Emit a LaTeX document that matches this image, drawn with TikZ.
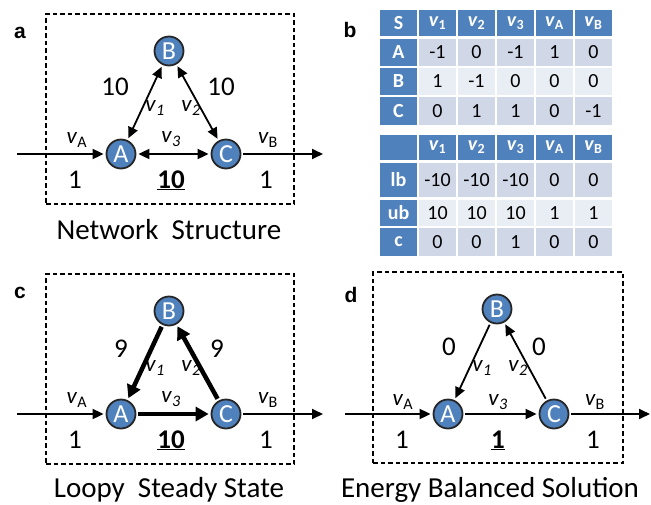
\documentclass[tikz,border=0pt]{standalone}
\usepackage{fontspec}
\setmainfont{Carlito}
\newfontfamily\panelfont{Liberation Sans}
\usetikzlibrary{arrows.meta}
\definecolor{nodeblue}{HTML}{4F81BD}
\definecolor{cellhead}{HTML}{4F81BD}
\definecolor{celldark}{HTML}{D0D8E8}
\definecolor{celllight}{HTML}{E9EDF4}
\newcommand\fsz[1]{\fontsize{#1}{#1}\selectfont}
\newcommand\flux[1]{\textit{v}\textsubscript{#1}}

\begin{document}
\begin{tikzpicture}[x=1pt,y=-1pt,
  met/.style={circle,fill=nodeblue,draw=black!85,line width=1.8pt,minimum size=29pt,inner sep=0pt,text=white,font=\fsz{26}},
  rxn/.style={line width=1.8pt,-{Triangle[length=11pt,width=10pt]},shorten >=2pt,shorten <=2pt},
  rev/.style={rxn,{Triangle[length=11pt,width=10pt]}-{Triangle[length=11pt,width=10pt]}},
  heavy/.style={line width=4.5pt,-{Triangle[length=13pt,width=14pt]},shorten >=2pt,shorten <=2pt},
  frame/.style={draw,line width=1.4pt,dash pattern=on 4.5pt off 3pt},
  num/.style={font=\fsz{27},anchor=base,inner sep=0pt},
  flx/.style={font=\fsz{23},inner sep=0pt},
  capt/.style={font=\fsz{29},anchor=base,inner sep=0pt},
  tag/.style={font=\panelfont\bfseries\fsz{21},anchor=base,inner sep=0pt},
  tc/.style={minimum width=37pt,inner sep=0pt,font=\fsz{20}},
  hc/.style={tc,fill=cellhead,text=white,font=\fsz{20}\bfseries},
  dc/.style={tc,fill=celldark},
  lc/.style={tc,fill=celllight},
]
\useasboundingbox (0,0) rectangle (651,504);

% ---------- a: network structure ----------
\node[frame,minimum width=248pt,minimum height=190pt,inner sep=0pt] (fa) at (170,109) {};
\node[tag] (ta) at (20,38) {a};
\node[met] (aB) at (169,51) {B};
\node[met] (aA) at (121,154) {A};
\node[met] (aC) at (226,154) {C};
\coordinate (aIn) at (17,154);
\coordinate (aOut) at (323,154);
\draw[rxn,shorten <=0pt] (aIn) -- (aA);
\draw[rxn,shorten >=0pt] (aC) -- (aOut);
\draw[rev] (aA) -- (aB);
\draw[rev] (aB) -- (aC);
\draw[rev] (aA) -- (aC);
\node[num] (a10l) at (115,95) {10};
\node[num] (a10r) at (221,95) {10};
\node[flx] (av1) at (155,108) {\flux{\textit{1}}};
\node[flx] (av2) at (191,108) {\flux{\textit{2}}};
\node[flx] (av3) at (171,139) {\flux{\textit{3}}};
\node[flx] (avA) at (77,140) {\flux{A}};
\node[flx] (avB) at (268,140) {\flux{B}};
\node[num] (a1l) at (75,188) {1};
\node[num] (a10) at (171,188) {\underline{\textbf{10}}};
\node[num] (a1r) at (266,188) {1};
\node[capt] (capa) at (169,239) {Network\ \ Structure};

% ---------- b: stoichiometry and bounds ----------
\node[tag] (tb) at (350,37) {b};
% stoichiometric matrix
\node[hc,minimum height=26pt] (s0) at (398.5,23) {S};
\foreach \x/\t [count=\i] in {437.5/{\flux{1}},476.5/{\flux{2}},515.5/{\flux{3}},554.5/{\flux{\upshape A}},593.5/{\flux{\upshape B}}}
  \node[hc,minimum height=26pt] (s0\i) at (\x,23) {\t};
\node[hc,minimum height=27pt] (sA) at (398.5,52.5) {A};
\foreach \x/\t [count=\i] in {437.5/-1,476.5/0,515.5/-1,554.5/1,593.5/0}
  \node[dc,minimum height=27pt] (sA\i) at (\x,52.5) {\t};
\node[hc,minimum height=27pt] (sB) at (398.5,81.5) {B};
\foreach \x/\t [count=\i] in {437.5/1,476.5/-1,515.5/0,554.5/0,593.5/0}
  \node[lc,minimum height=27pt] (sB\i) at (\x,81.5) {\t};
\node[hc,minimum height=28pt] (sC) at (398.5,111) {C};
\foreach \x/\t [count=\i] in {437.5/0,476.5/1,515.5/1,554.5/0,593.5/-1}
  \node[dc,minimum height=28pt] (sC\i) at (\x,111) {\t};
% flux bounds and objective
\node[hc,minimum height=25pt] (k0) at (398.5,147.5) {};
\foreach \x/\t [count=\i] in {437.5/{\flux{1}},476.5/{\flux{2}},515.5/{\flux{3}},554.5/{\flux{\upshape A}},593.5/{\flux{\upshape B}}}
  \node[hc,minimum height=25pt] (k0\i) at (\x,147.5) {\t};
\node[hc,minimum height=34pt] (klb) at (398.5,180) {lb};
\foreach \x/\t [count=\i] in {437.5/-10,476.5/-10,515.5/-10,554.5/0,593.5/0}
  \node[dc,minimum height=34pt] (klb\i) at (\x,180) {\t};
\node[hc,minimum height=26pt] (kub) at (398.5,213) {ub};
\foreach \x/\t [count=\i] in {437.5/10,476.5/10,515.5/10,554.5/1,593.5/1}
  \node[lc,minimum height=26pt] (kub\i) at (\x,213) {\t};
\node[hc,minimum height=28pt] (kc) at (398.5,242) {c};
\foreach \x/\t [count=\i] in {437.5/0,476.5/0,515.5/1,554.5/0,593.5/0}
  \node[dc,minimum height=28pt] (kc\i) at (\x,242) {\t};

% ---------- c: loopy steady state ----------
\node[frame,minimum width=248pt,minimum height=190pt,inner sep=0pt] (fc) at (170,369) {};
\node[tag] (tcc) at (20,298) {c};
\node[met] (cB) at (169,311) {B};
\node[met] (cA) at (121,414) {A};
\node[met] (cC) at (226,414) {C};
\coordinate (cIn) at (17,414);
\coordinate (cOut) at (323,414);
\draw[rxn,shorten <=0pt] (cIn) -- (cA);
\draw[rxn,shorten >=0pt] (cC) -- (cOut);
\draw[heavy] (cB) -- (cA);
\draw[heavy] (cC) -- (cB);
\draw[heavy] (cA) -- (cC);
\node[num] (c9l) at (121,357) {9};
\node[num] (c9r) at (217,357) {9};
\node[flx] (cv1) at (155,368) {\flux{\textit{1}}};
\node[flx] (cv2) at (191,368) {\flux{\textit{2}}};
\node[flx] (cv3) at (171,399) {\flux{\textit{3}}};
\node[flx] (cvA) at (77,400) {\flux{A}};
\node[flx] (cvB) at (268,400) {\flux{B}};
\node[num] (c1l) at (75,448) {1};
\node[num] (c10) at (171,448) {\underline{\textbf{10}}};
\node[num] (c1r) at (266,448) {1};
\node[capt] (capc) at (169,497) {Loopy\ \ Steady State};

% ---------- d: energy balanced solution ----------
\node[frame,minimum width=250pt,minimum height=191pt,inner sep=0pt] (fd) at (498,367.5) {};
\node[tag] (td) at (351,302) {d};
\node[met] (dB) at (497,309) {B};
\node[met] (dA) at (448,414) {A};
\node[met] (dC) at (554,414) {C};
\coordinate (dIn) at (345,414);
\coordinate (dOut) at (650,414);
\draw[rxn,shorten <=0pt] (dIn) -- (dA);
\draw[rxn,shorten >=0pt] (dC) -- (dOut);
\draw[rxn] (dB) -- (dA);
\draw[rxn] (dC) -- (dB);
\draw[rxn] (dA) -- (dC);
\node[num] (d0l) at (449,355) {0};
\node[num] (d0r) at (539,355) {0};
\node[flx] (dv1) at (482,368) {\flux{\textit{1}}};
\node[flx] (dv2) at (518,368) {\flux{\textit{2}}};
\node[flx] (dv3) at (498,402) {\flux{\textit{3}}};
\node[flx] (dvA) at (403,402) {\flux{A}};
\node[flx] (dvB) at (595,402) {\flux{B}};
\node[num] (d1l) at (402,448) {1};
\node[num] (d1) at (498,448) {\underline{\textbf{1}}};
\node[num] (d1r) at (593,448) {1};
\node[capt] (capd) at (490,497) {Energy Balanced Solution};
\end{tikzpicture}
\end{document}
